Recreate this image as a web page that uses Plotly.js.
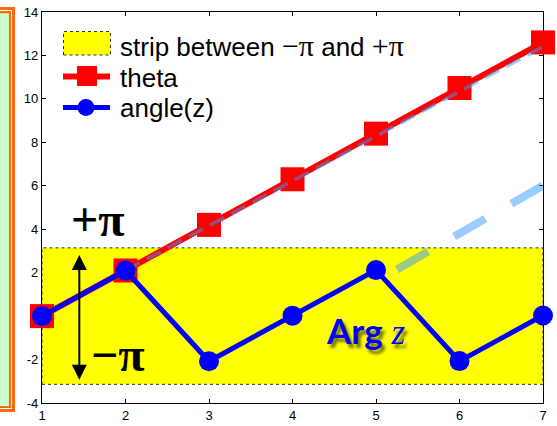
<!DOCTYPE html>
<html><head><meta charset="utf-8">
<script src="https://cdn.plot.ly/plotly-3.0.1.min.js"></script>
<style>html,body{margin:0;padding:0;background:#fff}#chart{width:557px;height:426px}</style>
</head><body><div id="chart"></div>
<script>
// ---- data ----
const xVals = [1, 2, 3, 4, 5, 6, 7];
const thetaVals = [0, 2.1, 4.2, 6.3, 8.4, 10.5, 12.6];
const angleVals = [0, 2.1, -2.08, 0.02, 2.12, -2.07, 0.03];
const stripX = [1, 7, 7, 1, 1];
const stripY = [-Math.PI, -Math.PI, Math.PI, Math.PI, -Math.PI];
const guideX = [2, 7];
const guideY = [2.1, 12.4];
const wrapGuideX = [5.25, 7.2];
const wrapGuideY = [2.15, 6.45];
const xTicks = [1, 2, 3, 4, 5, 6, 7];
const yTicks = [-4, -2, 0, 2, 4, 6, 8, 10, 12, 14];
const piSpan = s => '<span style="font-family:\'Liberation Serif\';font-size:30px">' + s + '</span>';
const legendLabels = ['strip between ' + piSpan('−π') + ' and ' + piSpan('+π'), 'theta', 'angle(z)'];

// ---- geometry helpers (pixel -> paper) ----
const W = 557, H = 426, L = 42, R = 14, T = 12, B = 23;
const pw = W - L - R, ph = H - T - B;
const px = p => (p - L) / pw;
const py = q => (H - B - q) / ph;

const guideColor = 'rgba(51,153,255,0.5)';

const traces = [
  {x: stripX, y: stripY, type: 'scatter', mode: 'lines', fill: 'toself', fillcolor: '#ffff00',
   line: {color: '#333333', width: 1, dash: 'dot'}, hoverinfo: 'skip', name: 'strip'},
  {x: xVals, y: thetaVals, type: 'scatter', mode: 'lines+markers', name: 'theta',
   line: {color: '#ff0000', width: 6}, marker: {symbol: 'square', size: 24, color: '#ff0000', line: {width: 0}},
   cliponaxis: false},
  {x: guideX, y: guideY, type: 'scatter', mode: 'lines', line: {color: guideColor, width: 3.5, dash: '16px,8px'}},
  {x: wrapGuideX, y: wrapGuideY, type: 'scatter', mode: 'lines', line: {color: guideColor, width: 8, dash: '36px,30px'}},
  {x: xVals, y: angleVals, type: 'scatter', mode: 'lines+markers', name: 'angle(z)',
   line: {color: '#0000ff', width: 5}, marker: {symbol: 'circle', size: 20, color: '#0000ff', line: {width: 0}},
   cliponaxis: false}
];

const axisCommon = {
  ticks: 'inside', ticklen: 4, tickwidth: 1, tickcolor: '#000',
  showline: true, linecolor: '#000', linewidth: 1.2, mirror: 'ticks',
  showgrid: false, zeroline: false, layer: 'below traces', fixedrange: true,
  tickfont: {family: 'Liberation Sans, Arial, sans-serif', size: 13, color: '#000'}
};

const shapes = [
  // left partial panel (double orange frame)
  {type: 'rect', xref: 'paper', yref: 'paper', x0: px(-10), x1: px(13.5), y0: py(410.5), y1: py(8.5),
   line: {color: '#ff6a10', width: 3}, fillcolor: '#ffffff', layer: 'above'},
  {type: 'rect', xref: 'paper', yref: 'paper', x0: px(-10), x1: px(10), y0: py(407), y1: py(12.2),
   line: {color: '#ff6a10', width: 2.2}, fillcolor: '#ccffcc', layer: 'above'},
  // legend symbols
  {type: 'rect', xref: 'paper', yref: 'paper', x0: px(63.5), x1: px(110.5), y0: py(55), y1: py(31.5),
   line: {color: '#333333', width: 1, dash: 'dot'}, fillcolor: '#ffff00', layer: 'above'},
  {type: 'line', xref: 'paper', yref: 'paper', x0: px(63), x1: px(110), y0: py(76.5), y1: py(76.5),
   line: {color: '#ff0000', width: 6}, layer: 'above'},
  {type: 'rect', xref: 'paper', yref: 'paper', x0: px(77), x1: px(97), y0: py(86), y1: py(66),
   line: {width: 0}, fillcolor: '#ff0000', layer: 'above'},
  {type: 'line', xref: 'paper', yref: 'paper', x0: px(63), x1: px(110), y0: py(107.5), y1: py(107.5),
   line: {color: '#0000ff', width: 5}, layer: 'above'},
  {type: 'circle', xref: 'paper', yref: 'paper', x0: px(77.5), x1: px(94.5), y0: py(116), y1: py(99),
   line: {width: 0}, fillcolor: '#0000ff', layer: 'above'}
];

const legFont = {family: 'Liberation Sans, Arial, sans-serif', size: 26, color: '#000'};
const annotations = [
  {xref: 'paper', yref: 'paper', x: px(118), y: py(45), xanchor: 'left', yanchor: 'middle', text: legendLabels[0], showarrow: false, font: legFont},
  {xref: 'paper', yref: 'paper', x: px(118), y: py(78), xanchor: 'left', yanchor: 'middle', text: legendLabels[1], showarrow: false, font: legFont},
  {xref: 'paper', yref: 'paper', x: px(118), y: py(108), xanchor: 'left', yanchor: 'middle', text: legendLabels[2], showarrow: false, font: legFont},
  {xref: 'x', yref: 'y', x: 1.67, y: 4.45, text: '<b>+π</b>', showarrow: false,
   font: {family: 'Liberation Serif, serif', size: 48, color: '#000'}},
  {xref: 'x', yref: 'y', x: 1.91, y: -1.75, text: '<b>−π</b>', showarrow: false,
   font: {family: 'Liberation Serif, serif', size: 48, color: '#000'}},
  {xref: 'x', yref: 'y', x: 1.447, y: 2.81, ax: 1.447, ay: -3.0, axref: 'x', ayref: 'y', text: '',
   showarrow: true, arrowside: 'end+start', arrowhead: 2, startarrowhead: 2, arrowsize: 1.5, startarrowsize: 1.5,
   arrowwidth: 2, arrowcolor: '#000'},
  {xref: 'x', yref: 'y', x: 4.88, y: -0.66, showarrow: false,
   text: '<b>Arg</b> <span style="font-family:\'Liberation Serif\';font-style:italic">z</span>',
   font: {family: 'Lato, Liberation Sans, sans-serif', size: 35, color: '#0000ff', shadow: '3px 4px 3px rgba(0,0,0,0.55)'}}
];

const layout = {
  width: W, height: H, margin: {l: L, r: R, t: T, b: B, pad: 0},
  paper_bgcolor: '#ffffff', plot_bgcolor: '#ffffff', showlegend: false, hovermode: false,
  xaxis: Object.assign({}, axisCommon, {range: [1, 7], tickvals: xTicks, ticktext: xTicks.map(String)}),
  yaxis: Object.assign({}, axisCommon, {range: [-4, 14], tickvals: yTicks, ticktext: yTicks.map(String)}),
  shapes: shapes, annotations: annotations
};

Plotly.newPlot('chart', traces, layout, {displayModeBar: false, staticPlot: true});
</script>
</body></html>
